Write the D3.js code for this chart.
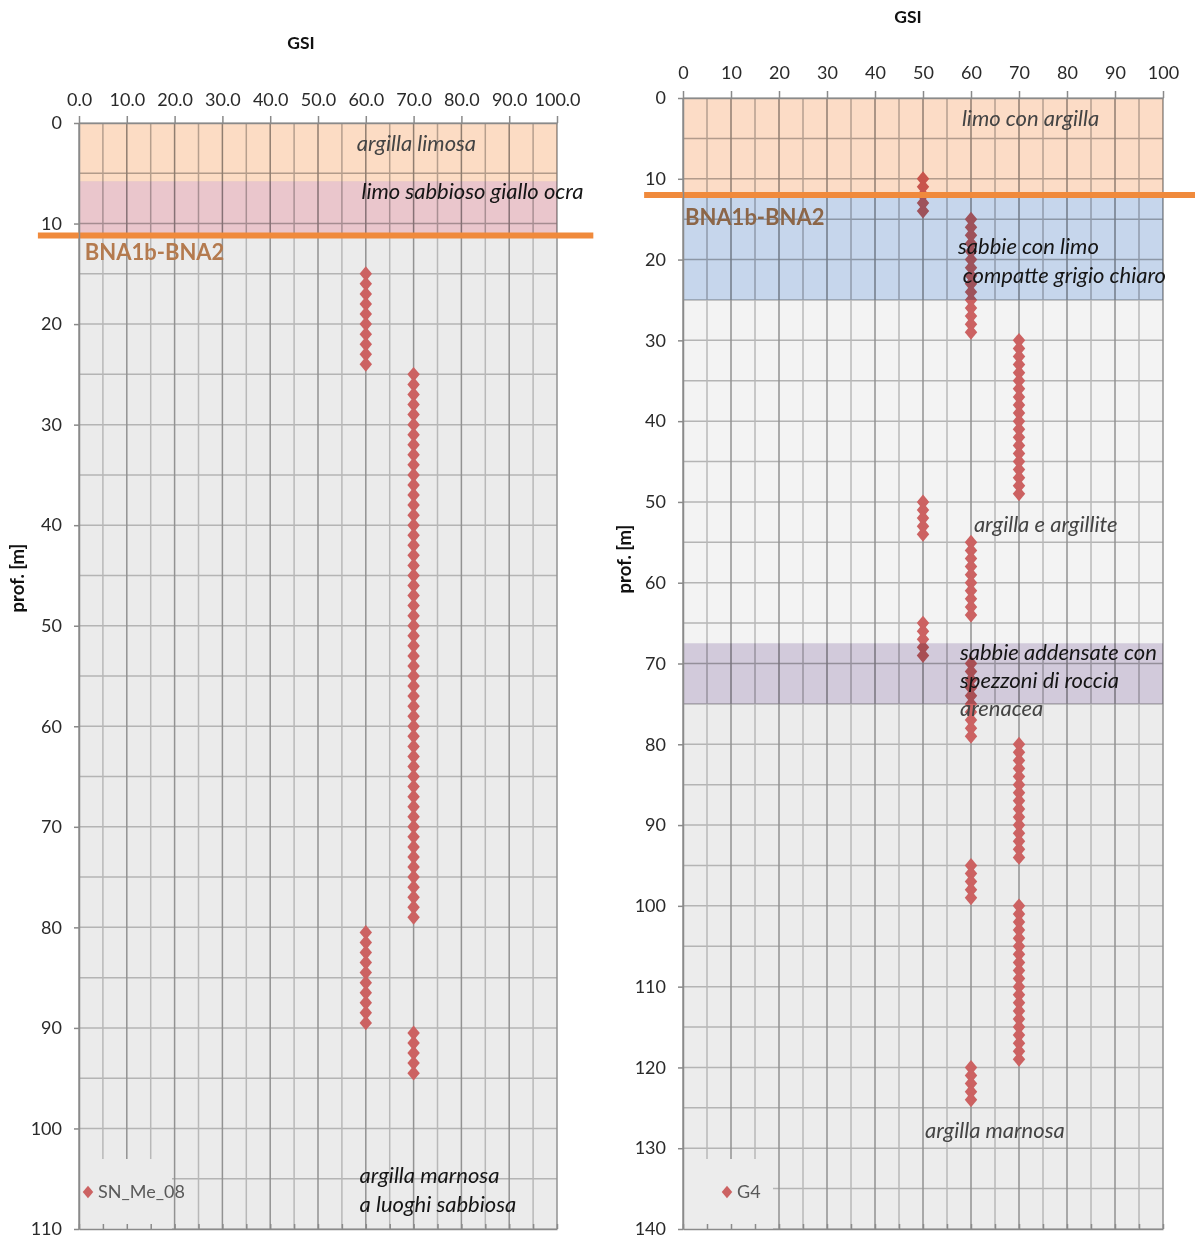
<!DOCTYPE html>
<html>
<head>
<meta charset="utf-8">
<script src="https://cdn.jsdelivr.net/npm/d3@7"></script>
<style>
  body { margin: 0; background: #fff; }
  text { font-family: Lato, "Open Sans", sans-serif; }
</style>
</head>
<body>
<script>
// ---- data: borehole SN_Me_08 (left) ----
const leftName = 'SN_Me_08';
const leftDepth = [
  15, 16, 17, 18, 19, 20, 21, 22, 23, 24,
  25, 26, 27, 28, 29, 30, 31, 32, 33, 34, 35, 36, 37, 38, 39, 40, 41, 42, 43, 44,
  45, 46, 47, 48, 49, 50, 51, 52, 53, 54, 55, 56, 57, 58, 59, 60, 61, 62, 63, 64,
  65, 66, 67, 68, 69, 70, 71, 72, 73, 74, 75, 76, 77, 78, 79,
  80.5, 81.5, 82.5, 83.5, 84.5, 85.5, 86.5, 87.5, 88.5, 89.5,
  90.5, 91.5, 92.5, 93.5, 94.5
];
const leftGsi = [
  60, 60, 60, 60, 60, 60, 60, 60, 60, 60,
  70, 70, 70, 70, 70, 70, 70, 70, 70, 70, 70, 70, 70, 70, 70, 70, 70, 70, 70, 70,
  70, 70, 70, 70, 70, 70, 70, 70, 70, 70, 70, 70, 70, 70, 70, 70, 70, 70, 70, 70,
  70, 70, 70, 70, 70, 70, 70, 70, 70, 70, 70, 70, 70, 70, 70,
  60, 60, 60, 60, 60, 60, 60, 60, 60, 60,
  70, 70, 70, 70, 70
];

// ---- data: borehole G4 (right) ----
const rightName = 'G4';
const rightDepth = [
  10, 11, 12, 13, 14,
  15, 16, 17, 18, 19, 20, 21, 22, 23, 24, 25, 26, 27, 28, 29,
  30, 31, 32, 33, 34, 35, 36, 37, 38, 39, 40, 41, 42, 43, 44, 45, 46, 47, 48, 49,
  50, 51, 52, 53, 54,
  55, 56, 57, 58, 59, 60, 61, 62, 63, 64,
  65, 66, 67, 68, 69,
  70, 71, 72, 73, 74, 75, 76, 77, 78, 79,
  80, 81, 82, 83, 84, 85, 86, 87, 88, 89, 90, 91, 92, 93, 94,
  95, 96, 97, 98, 99,
  100, 101, 102, 103, 104, 105, 106, 107, 108, 109, 110, 111, 112, 113, 114, 115, 116, 117, 118, 119,
  120, 121, 122, 123, 124
];
const rightGsi = [
  50, 50, 50, 50, 50,
  60, 60, 60, 60, 60, 60, 60, 60, 60, 60, 60, 60, 60, 60, 60,
  70, 70, 70, 70, 70, 70, 70, 70, 70, 70, 70, 70, 70, 70, 70, 70, 70, 70, 70, 70,
  50, 50, 50, 50, 50,
  60, 60, 60, 60, 60, 60, 60, 60, 60, 60,
  50, 50, 50, 50, 50,
  60, 60, 60, 60, 60, 60, 60, 60, 60, 60,
  70, 70, 70, 70, 70, 70, 70, 70, 70, 70, 70, 70, 70, 70, 70,
  60, 60, 60, 60, 60,
  70, 70, 70, 70, 70, 70, 70, 70, 70, 70, 70, 70, 70, 70, 70, 70, 70, 70, 70, 70,
  60, 60, 60, 60, 60
];

// ---- ticks ----
const gsiTicks = [0, 10, 20, 30, 40, 50, 60, 70, 80, 90, 100];
const leftDepthTicks = [0, 10, 20, 30, 40, 50, 60, 70, 80, 90, 100, 110];
const rightDepthTicks = [0, 10, 20, 30, 40, 50, 60, 70, 80, 90, 100, 110, 120, 130, 140];

// ---- geological layers (depth ranges, m) ----
const leftLayerTop = [0, 5.8];
const leftLayerBottom = [5.8, 11.3];
const leftLayerColor = ['#fcdcc4', '#eac6cc'];

const rightLayerTop = [0, 12, 67.5];
const rightLayerBottom = [12, 25, 75];
const rightLayerColor = ['#fcdcc6', '#c6d6ec', '#d2cadb'];

// lighter unshaded stretch of the G4 log
const rightLightTop = 25;
const rightLightBottom = 67.5;

// unit boundary
const leftBoundary = 11.2;
const rightBoundary = 12;
const boundaryLabel = 'BNA1b-BNA2';

// ---- labels on the logs (gsi, depth of baseline) ----
const leftNotes = [
  { text: 'argilla limosa', gsi: 58.1, depth: 2.8, dark: false },
  { text: 'limo sabbioso giallo ocra', gsi: 59.1, depth: 7.6, dark: true },
  { text: 'argilla marnosa', gsi: 58.7, depth: 105.4, dark: true },
  { text: 'a luoghi sabbiosa', gsi: 58.7, depth: 108.3, dark: true }
];
const rightNotes = [
  { text: 'limo con argilla', gsi: 58.1, depth: 3.5, dark: false },
  { text: 'sabbie con limo', gsi: 57.3, depth: 19.3, dark: true },
  { text: 'compatte grigio chiaro', gsi: 58.3, depth: 22.9, dark: true },
  { text: 'argilla e argillite', gsi: 60.6, depth: 53.7, dark: false },
  { text: 'sabbie addensate con', gsi: 57.7, depth: 69.6, dark: true },
  { text: 'spezzoni di roccia', gsi: 57.7, depth: 73.0, dark: true },
  { text: 'arenacea', gsi: 57.7, depth: 76.5, dark: false },
  { text: 'argilla marnosa', gsi: 50.4, depth: 128.7, dark: false }
];

const W = 1195, H = 1241;
const svg = d3.select('body').append('svg').attr('width', W).attr('height', H);

const pointColor = '#cc6262';

// diamond a bit taller than wide, like the spreadsheet marker
const tallDiamond = {
  draw(ctx, size) {
    const rx = Math.sqrt(size) / 2, ry = rx * 1.2;
    ctx.moveTo(0, -ry);
    ctx.lineTo(rx, 0);
    ctx.lineTo(0, ry);
    ctx.lineTo(-rx, 0);
    ctx.closePath();
  }
};

function drawLog(c) {
  const x = d3.scaleLinear().domain([0, 100]).range([c.x0, c.x1]);
  const y = d3.scaleLinear().domain([0, c.maxDepth]).range([c.y0, c.y1]);
  const g = svg.append('g');
  const pw = x(100) - x(0);

  // plot background: grey, white under the tinted layers
  g.append('rect')
    .attr('x', x(0)).attr('y', y(0))
    .attr('width', pw).attr('height', y(c.maxDepth) - y(0))
    .attr('fill', c.bg);
  if (c.lightTop !== undefined) {
    g.append('rect')
      .attr('x', x(0)).attr('y', y(c.lightTop))
      .attr('width', pw).attr('height', y(c.lightBottom) - y(c.lightTop))
      .attr('fill', '#f3f3f3');
  }
  g.append('g').selectAll('rect').data(c.layerTop).join('rect')
    .attr('x', x(0)).attr('width', pw)
    .attr('y', d => y(d))
    .attr('height', (d, i) => y(c.layerBottom[i]) - y(d))
    .attr('fill', '#fff');

  // gridlines every 5
  const vx = d3.range(0, 101, 5);
  const hy = d3.range(0, c.maxDepth + 1, 5);
  g.append('g').selectAll('line').data(hy).join('line')
    .attr('x1', x(0)).attr('x2', x(100))
    .attr('y1', d => y(d)).attr('y2', d => y(d))
    .attr('stroke', '#b4b4b4').attr('stroke-width', 1.5);
  g.append('g').selectAll('line').data(vx).join('line')
    .attr('x1', d => x(d)).attr('x2', d => x(d))
    .attr('y1', y(0)).attr('y2', y(c.maxDepth))
    .attr('stroke', d => d % 10 === 0 ? '#929292' : '#b8b8b8')
    .attr('stroke-width', 1.5);

  // GSI points
  g.append('g').selectAll('path').data(c.depth).join('path')
    .attr('d', d3.symbol().type(tallDiamond).size(155))
    .attr('transform', (d, i) => `translate(${x(c.gsi[i])},${y(d)})`)
    .attr('fill', pointColor);

  // unit label (under the layer tint)
  g.append('text')
    .attr('x', x(c.labelGsi)).attr('y', y(c.labelDepth))
    .attr('font-size', 22).attr('font-weight', 700)
    .attr('fill', '#b47a4e')
    .text(boundaryLabel);

  // layers, multiplied over grid and points
  g.append('g').selectAll('rect').data(c.layerTop).join('rect')
    .attr('x', x(0)).attr('width', pw)
    .attr('y', d => y(d))
    .attr('height', (d, i) => y(c.layerBottom[i]) - y(d))
    .attr('fill', (d, i) => c.layerColor[i])
    .style('mix-blend-mode', 'multiply');

  // notes
  g.append('g').selectAll('text').data(c.notes).join('text')
    .attr('x', d => x(d.gsi)).attr('y', d => y(d.depth))
    .attr('font-size', 22).attr('font-style', 'italic')
    .attr('fill', d => d.dark ? '#151515' : '#444')
    .text(d => d.text);

  // boundary line
  g.append('line')
    .attr('x1', x(c.lineFrom)).attr('x2', x(c.lineTo))
    .attr('y1', y(c.boundary)).attr('y2', y(c.boundary))
    .attr('stroke', '#f08a3c').attr('stroke-width', 6);

  // legend
  g.append('rect')
    .attr('x', x(0)).attr('y', y(c.maxDepth) - 70)
    .attr('width', c.legendW).attr('height', 70)
    .attr('fill', c.bg);
  g.append('path')
    .attr('d', d3.symbol().type(tallDiamond).size(110))
    .attr('transform', `translate(${x(0) + c.legendDx},${y(c.maxDepth) - 37})`)
    .attr('fill', pointColor);
  g.append('text')
    .attr('x', x(0) + c.legendDx + 10).attr('y', y(c.maxDepth) - 31)
    .attr('font-size', 18).attr('fill', '#595959')
    .text(c.name);

  // axes
  const top = g.append('g')
    .attr('transform', `translate(0,${y(0)})`)
    .call(d3.axisTop(x).tickValues(gsiTicks).tickSize(7).tickSizeOuter(0)
      .tickPadding(c.xPad).tickFormat(c.xFmt));
  const left = g.append('g')
    .attr('transform', `translate(${x(0)},0)`)
    .call(d3.axisLeft(y).tickValues(c.depthTicks).tickSize(5).tickSizeOuter(0)
      .tickPadding(12).tickFormat(d3.format('d')));
  const bottom = g.append('g')
    .attr('transform', `translate(0,${y(c.maxDepth)})`)
    .call(d3.axisBottom(x).tickValues(vx).tickSize(-5).tickSizeOuter(0).tickFormat(''));
  [top, left, bottom].forEach(a => {
    a.attr('font-family', null).attr('font-size', null);
    a.selectAll('path, line').attr('stroke', '#8a8a8a').attr('stroke-width', 1.5);
    a.selectAll('text').attr('font-size', 18).attr('fill', '#2a2a2a');
  });

  // titles
  g.append('text')
    .attr('x', c.titleX).attr('y', c.titleY)
    .attr('text-anchor', 'middle').attr('font-size', 17.5).attr('font-weight', 700)
    .attr('fill', '#111')
    .text('GSI');
  g.append('text')
    .attr('transform', `translate(${c.yTitleX},${c.yTitleY}) rotate(-90)`)
    .attr('text-anchor', 'middle').attr('font-size', 18.5).attr('font-weight', 700)
    .attr('fill', '#111')
    .text('prof. [m]');
}

drawLog({
  name: leftName, depth: leftDepth, gsi: leftGsi,
  x0: 79, x1: 557, y0: 123, y1: 1229, maxDepth: 110,
  bg: '#ebebeb',
  depthTicks: leftDepthTicks, xFmt: d3.format('.1f'), xPad: 10,
  layerTop: leftLayerTop, layerBottom: leftLayerBottom, layerColor: leftLayerColor,
  boundary: leftBoundary, lineFrom: -8.6, lineTo: 107.6,
  labelGsi: 1.2, labelDepth: 13.6,
  notes: leftNotes,
  legendW: 93, legendDx: 9,
  titleX: 301, titleY: 49, yTitleX: 24, yTitleY: 578
});

drawLog({
  name: rightName, depth: rightDepth, gsi: rightGsi,
  x0: 683, x1: 1163, y0: 98, y1: 1229, maxDepth: 140,
  bg: '#ececec', lightTop: rightLightTop, lightBottom: rightLightBottom,
  depthTicks: rightDepthTicks, xFmt: d3.format('d'), xPad: 12,
  layerTop: rightLayerTop, layerBottom: rightLayerBottom, layerColor: rightLayerColor,
  boundary: rightBoundary, lineFrom: -8.1, lineTo: 110,
  labelGsi: 0.4, labelDepth: 15.7,
  notes: rightNotes,
  legendW: 90, legendDx: 44,
  titleX: 908, titleY: 23, yTitleX: 631, yTitleY: 559
});
</script>
</body>
</html>
